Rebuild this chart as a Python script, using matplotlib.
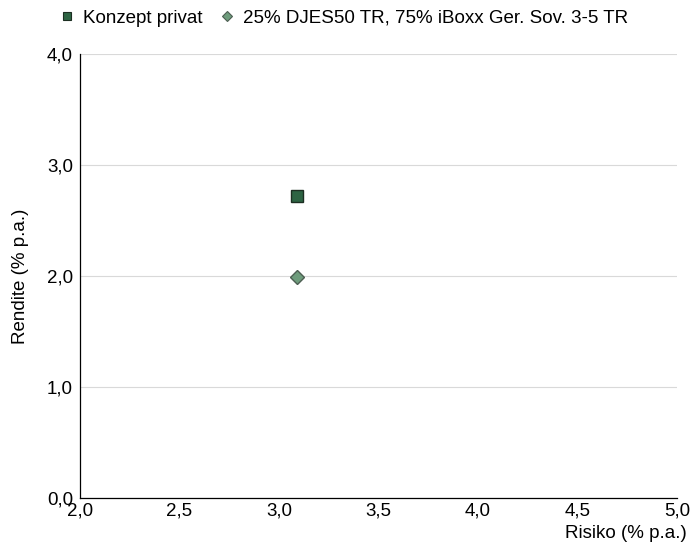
import matplotlib
matplotlib.use("Agg")
import matplotlib.pyplot as plt
from matplotlib.ticker import FuncFormatter
from matplotlib.lines import Line2D

plt.rcParams['font.family'] = ['Liberation Sans', 'DejaVu Sans']

# Data
names = ['Konzept privat', '25% DJES50 TR, 75% iBoxx Ger. Sov. 3-5 TR']
risk = [3.09, 3.09]
ret = [2.72, 1.99]
markers = ['s', 'D']
faces = ['#2d6443', '#6e9c7c']
edges = ['#1c2e22', '#4d5e52']
msizes = [8, 7.5]
leg_sizes = [6, 5.5]

fs = 13.5

fig = plt.figure(figsize=(6.93, 5.42), dpi=100)
ax = fig.add_axes([80 / 693, 1 - 498 / 542, 597 / 693, 444 / 542])

for x, y, m, fc, ec, s in zip(risk, ret, markers, faces, edges, msizes):
    ax.plot([x], [y], linestyle='none', marker=m, markersize=s,
            markerfacecolor=fc, markeredgecolor=ec, markeredgewidth=1.0,
            zorder=3, clip_on=False)

ax.set_xlim(2.0, 5.0)
ax.set_ylim(0.0, 4.0)
ax.set_xticks([2.0, 2.5, 3.0, 3.5, 4.0, 4.5, 5.0])
ax.set_yticks([0.0, 1.0, 2.0, 3.0, 4.0])
fmt = FuncFormatter(lambda v, p: f'{v:.1f}'.replace('.', ','))
ax.xaxis.set_major_formatter(fmt)
ax.yaxis.set_major_formatter(fmt)

ax.grid(axis='y', color='#d9d9d9', linewidth=0.8)
ax.set_axisbelow(True)
for sp in ['top', 'right']:
    ax.spines[sp].set_visible(False)
ax.spines['left'].set_linewidth(0.9)
ax.spines['bottom'].set_linewidth(0.9)

ax.tick_params(axis='x', length=0, labelsize=fs, pad=3)
ax.tick_params(axis='y', length=0, labelsize=fs, pad=5)

fig.text(687 / 693, 1 - 533 / 542, 'Risiko (% p.a.)', fontsize=fs,
         ha='right', va='center')
fig.text(21 / 693, 1 - 276 / 542, 'Rendite (% p.a.)', fontsize=fs,
         rotation=90, ha='center', va='center')

handles = [Line2D([], [], linestyle='none', marker=m, markersize=s,
                  markerfacecolor=fc, markeredgecolor=ec, markeredgewidth=0.8)
           for m, fc, ec, s in zip(markers, faces, edges, leg_sizes)]
fig.legend(handles, names, loc='center left',
           bbox_to_anchor=(45 / 693, 1 - 18 / 542),
           ncol=2, frameon=False, fontsize=fs, handlelength=0.55,
           handletextpad=0.6, columnspacing=1.0, borderpad=0.4)

fig.savefig('out.png', dpi=100)
